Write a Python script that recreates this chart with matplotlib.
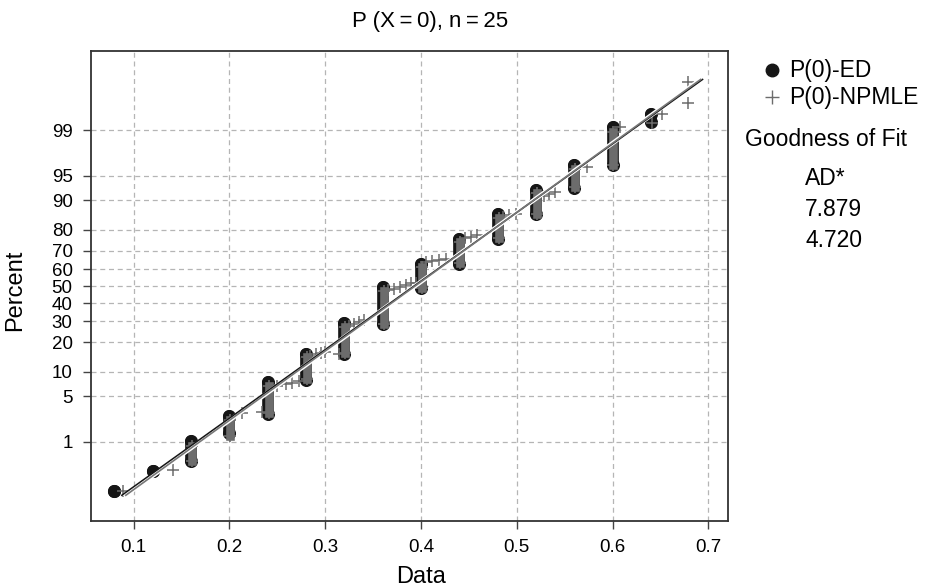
import numpy as np
import matplotlib
matplotlib.use("Agg")
import matplotlib.pyplot as plt
from matplotlib.lines import Line2D
from statistics import NormalDist

plt.rcParams["font.family"] = ["Liberation Sans", "DejaVu Sans"]

# ED estimates: each value is stacked over a range of percent (many ties)
ed_x = [0.08, 0.12, 0.16, 0.20, 0.24, 0.28, 0.32, 0.36, 0.40, 0.44, 0.48, 0.52, 0.56, 0.60, 0.64]
ed_lo = [0.114, 0.29, 0.45, 1.4, 2.8, 8.1, 15.7, 28.5, 49.0, 63.0, 76.0, 85.7, 92.8, 96.4, 99.27]
ed_hi = [0.114, 0.29, 1.05, 2.6, 7.7, 15.4, 29.0, 49.5, 63.0, 76.0, 85.7, 92.5, 96.4, 99.1, 99.49]

# NPMLE estimates: stacked ties
np_x = [0.161, 0.201, 0.241, 0.281, 0.321, 0.361, 0.401, 0.441, 0.481, 0.521, 0.561, 0.601]
np_lo = [0.45, 1.25, 2.9, 8.3, 16.0, 28.5, 49.0, 63.5, 76.5, 86.0, 93.0, 96.5]
np_hi = [0.85, 2.3, 6.8, 14.5, 27.0, 47.0, 61.0, 74.5, 84.5, 91.8, 96.0, 98.9]

# NPMLE estimates that are not tied
np_pts_x = [0.0885, 0.1416, 0.213, 0.234, 0.250, 0.2596, 0.2658, 0.2731,
            0.284, 0.290, 0.296, 0.300, 0.314, 0.325, 0.330, 0.335, 0.341,
            0.366, 0.372, 0.378, 0.384, 0.390, 0.395,
            0.405, 0.412, 0.419, 0.426, 0.446, 0.452, 0.458,
            0.486, 0.492, 0.499, 0.528, 0.534, 0.540,
            0.573, 0.608, 0.6415, 0.652, 0.679, 0.679]
np_pts_pct = [0.114, 0.31, 2.9, 3.0, 6.7, 7.1, 7.4, 7.9,
              15.0, 15.4, 15.9, 16.3, 15.6, 27.5, 28.5, 29.5, 30.8,
              47.5, 48.5, 49.5, 50.5, 51.5, 52.0,
              63.8, 64.5, 65.2, 65.8, 76.2, 76.8, 77.5,
              85.0, 85.5, 86.0, 91.0, 91.5, 91.9,
              96.2, 99.1, 99.26, 99.49, 99.88, 99.68]

# fitted normal lines (end points)
ed_fit_x = [0.0877, 0.694]
np_fit_x = [0.0919, 0.692]
fit_pct = [0.09, 99.897]

y_ticks = [1, 5, 10, 20, 30, 40, 50, 60, 70, 80, 90, 95, 99]
x_ticks = [0.1, 0.2, 0.3, 0.4, 0.5, 0.6, 0.7]
ad_values = ["7.879", "4.720"]

_nd = NormalDist()
_fwd = np.vectorize(lambda v: _nd.inv_cdf(v / 100.0), otypes=[float])
_inv = np.vectorize(lambda z: _nd.cdf(z) * 100.0, otypes=[float])


def pct_to_z(p):
    p = np.clip(np.asarray(p, dtype=float), 1e-7, 100 - 1e-7)
    return _fwd(p)


def z_to_pct(z):
    return _inv(np.asarray(z, dtype=float))


black = "#161616"
gray = "#6c6c6c"

fig = plt.figure(figsize=(9.25, 5.87), dpi=100)
ax = fig.add_axes([0.0981, 0.1124, 0.6890, 0.8007])
ax.set_yscale("function", functions=(pct_to_z, z_to_pct))
ax.set_xlim(0.0553, 0.7206)
ax.set_ylim(0.0228, 99.9772)

ax.set_xticks(x_ticks)
ax.set_xticklabels([f"{v:.1f}" for v in x_ticks])
ax.set_yticks(y_ticks)
ax.set_yticklabels([str(v) for v in y_ticks])
ax.yaxis.set_minor_locator(matplotlib.ticker.NullLocator())
ax.tick_params(axis="both", labelsize=13.5, length=6, width=1, color="#444444", pad=7)
ax.grid(True, color="#b5b5b5", linestyle=(0, (4, 3)), linewidth=0.9)
ax.set_axisbelow(True)
for sp in ax.spines.values():
    sp.set_linewidth(1.3)
    sp.set_color("#333333")

# ED stacks (black)
for x, lo, hi in zip(ed_x, ed_lo, ed_hi):
    ax.plot([x, x], [lo, hi], "-o", color=black, lw=8.4, ms=8.4,
            solid_capstyle="round", zorder=3)

# NPMLE stacks (gray plus signs)
for x, lo, hi in zip(np_x, np_lo, np_hi):
    ax.plot([x, x], [lo, hi], "-", color=gray, lw=6.2, zorder=4)
    ax.plot([x, x], [lo, hi], "+", color=gray, ms=8, mew=1.2, zorder=4)
ax.plot(np_pts_x, np_pts_pct, "+", color=gray, ms=9, mew=1.1, zorder=4)

# fitted lines
ax.plot(np_fit_x, fit_pct, color="white", lw=3.2, zorder=5)
ax.plot(ed_fit_x, fit_pct, color=black, lw=1.1, zorder=6)
ax.plot(np_fit_x, fit_pct, color="#777777", lw=1.2, zorder=6)

fig.text(430 / 925, 1 - 27 / 587, "P (X\u2009=\u20090), n\u2009=\u200925",
         ha="center", va="baseline", fontsize=16)
fig.text(421 / 925, 1 - 577 / 587, "Data", ha="center", va="center", fontsize=17)
fig.text(15 / 925, 1 - 290 / 587, "Percent", ha="center", va="center",
         rotation=90, fontsize=17)

# legend and goodness of fit box
fig.add_artist(Line2D([772 / 925], [1 - 70 / 587], transform=fig.transFigure,
                      marker="o", color=black, ms=9, ls="none"))
fig.add_artist(Line2D([772 / 925], [1 - 97 / 587], transform=fig.transFigure,
                      marker="+", color=gray, ms=10, mew=1.0, ls="none"))
fig.text(789 / 925, 1 - 77 / 587, "P(0)-ED", va="baseline", fontsize=16.5)
fig.text(789 / 925, 1 - 104 / 587, "P(0)-NPMLE", va="baseline", fontsize=16.5)
fig.text(745 / 925, 1 - 146 / 587, "Goodness of Fit", va="baseline", fontsize=16.5)
fig.text(805 / 925, 1 - 185 / 587, "AD*", va="baseline", fontsize=16.5)
fig.text(805 / 925, 1 - 216 / 587, ad_values[0], va="baseline", fontsize=16.5)
fig.text(805 / 925, 1 - 247 / 587, ad_values[1], va="baseline", fontsize=16.5)

fig.savefig("out.png", dpi=100)
